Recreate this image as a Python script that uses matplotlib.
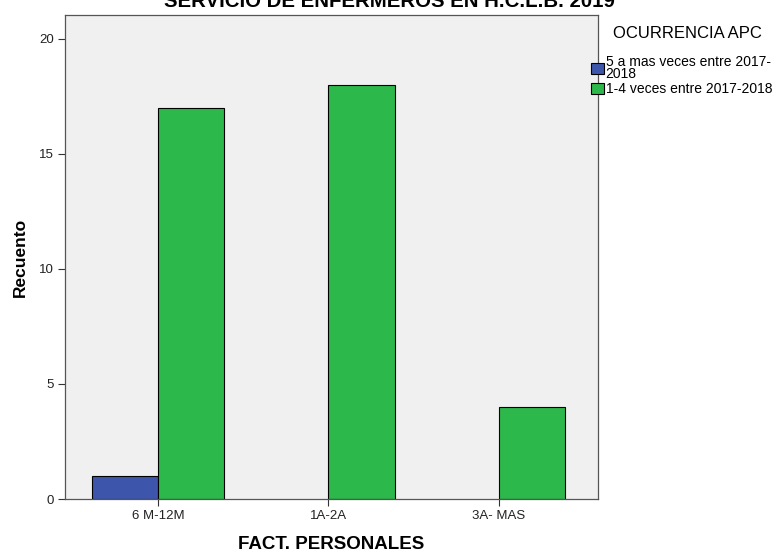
import matplotlib
matplotlib.use("Agg")
import matplotlib.pyplot as plt
import numpy as np

categories = ["6 M-12M", "1A-2A", "3A- MAS"]
cinco_o_mas = [1, 0, 0]
uno_a_cuatro = [17, 18, 4]
series_labels = ["5 a mas veces entre 2017-\n2018", "1-4 veces entre 2017-2018"]
yticks = [0, 5, 10, 15, 20]

plt.rcParams.update({"font.family": ["Liberation Sans", "DejaVu Sans"]})

fig = plt.figure(figsize=(7.78, 5.53), dpi=100)
ax = fig.add_axes([65 / 778, 1 - 499 / 553, 533 / 778, 484 / 553])
ax.set_facecolor("#f0f0f0")

x = np.arange(len(categories))
w = 0.39
blue, green = "#3d56ab", "#2db84b"

# SPSS draws nothing for empty cells, so skip zero counts
for xi, v in zip(x, cinco_o_mas):
    if v > 0:
        ax.bar(xi, v, width=-w, align="edge", color=blue, edgecolor="black",
               linewidth=0.8)
for xi, v in zip(x, uno_a_cuatro):
    if v > 0:
        ax.bar(xi, v, width=w, align="edge", color=green, edgecolor="black",
               linewidth=0.8)

ax.set_xlim(-0.5455, 2.581)
ax.set_ylim(0, 21.04)
ax.set_xticks(x)
ax.set_xticklabels(categories, fontsize=9.5, color="#222222")
ax.set_yticks(yticks)
ax.set_yticklabels([str(t) for t in yticks], fontsize=9.5, color="#222222")
ax.tick_params(length=5, width=0.8, color="#333333", pad=3)
for s in ax.spines.values():
    s.set_color("#555555")
    s.set_linewidth(0.9)

ax.set_xlabel("FACT. PERSONALES", fontsize=13.5, fontweight="bold", labelpad=10)
ax.set_ylabel("Recuento", fontsize=12.5, fontweight="bold", labelpad=8)

fig.text(0.5, 1 - 1.5 / 553, "SERVICIO DE ENFERMEROS EN H.C.L.B. 2019",
         ha="center", va="center", fontsize=14.7, fontweight="bold")

# legend title drawn separately so its gap to the entries can be set
fig.text(687 / 778, 1 - 33 / 553, "OCURRENCIA APC", ha="center", va="center",
         fontsize=12)
handles = [plt.Rectangle((0, 0), 1, 1, facecolor=c, edgecolor="black",
                         linewidth=0.8) for c in (blue, green)]
leg = fig.legend(handles, series_labels, loc="upper left",
                 bbox_to_anchor=(591 / 778, 1 - 55 / 553), frameon=False,
                 fontsize=10, handlelength=0.9, handleheight=0.9,
                 handletextpad=0.15, labelspacing=0.1, borderaxespad=0,
                 borderpad=0)
for t in leg.get_texts():
    t.set_linespacing(0.8)

fig.savefig("out.png", dpi=100)
